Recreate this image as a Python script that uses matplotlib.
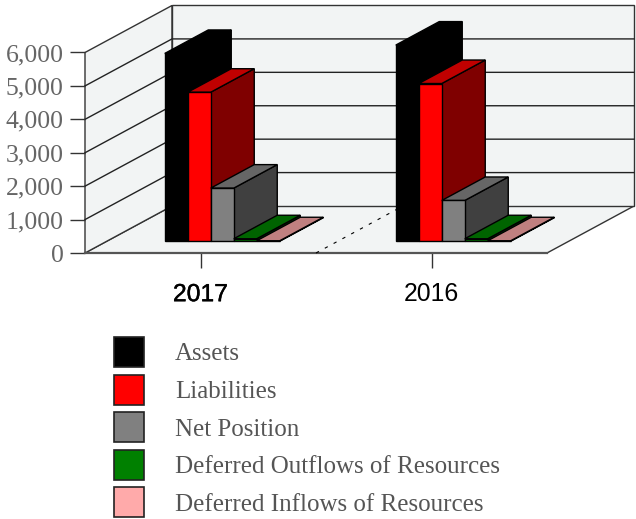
import matplotlib
matplotlib.use("Agg")
import matplotlib.pyplot as plt
from matplotlib.patches import Polygon, Patch
import matplotlib.patheffects as pe

categories = ["2017", "2016"]
series = ["Assets", "Liabilities", "Net Position",
          "Deferred Outflows of Resources", "Deferred Inflows of Resources"]
assets = [5620, 5870]
liabilities = [4460, 4720]
net_position = [1590, 1220]
deferred_out = [75, 75]
deferred_in = [15, 15]
values = [assets, liabilities, net_position, deferred_out, deferred_in]
yticks = [0, 1000, 2000, 3000, 4000, 5000, 6000]
front = ["#000000", "#ff0000", "#808080", "#008000", "#ffaaaa"]
top = ["#000000", "#c00000", "#666666", "#006400", "#c08080"]
side = ["#000000", "#7f0000", "#404040", "#004000", "#804040"]
WALL = "#f2f4f4"
W, H = 636, 519

fig = plt.figure(figsize=(W / 100, H / 100), dpi=100, facecolor="white")
ax = fig.add_axes([85 / W, 1 - 253 / H, 462 / W, 200.5 / H])
ax.set_xlim(-0.5, 1.5)
ax.set_ylim(0, 6000)
ax.patch.set_visible(False)
for s in ax.spines.values():
    s.set_visible(False)

DX = 87 / 231        # full chart depth in category units
DY = 47 / 200.5 * 6000  # full chart depth in value units


def proj(x, v, d):
    return (x + DX * d, v + DY * d)


def poly(pts, fc, ec="#000000", lw=1.0, z=2):
    ax.add_patch(Polygon(pts, closed=True, facecolor=fc, edgecolor=ec, linewidth=lw,
                         joinstyle="miter", zorder=z, clip_on=False))


ymax = yticks[-1]
# floor, left wall, back wall
poly([proj(-.5, 0, 0), proj(1.5, 0, 0), proj(1.5, 0, 1), proj(-.5, 0, 1)], WALL, "#333333", 1.0, 1)
poly([proj(-.5, 0, 0), proj(-.5, ymax, 0), proj(-.5, ymax, 1), proj(-.5, 0, 1)], WALL, "#333333", 1.0, 1)
poly([proj(-.5, 0, 1), proj(-.5, ymax, 1), proj(1.5, ymax, 1), proj(1.5, 0, 1)], WALL, "#333333", 1.0, 1)
for v in yticks[1:-1]:
    pts = [proj(-.5, v, 0), proj(-.5, v, 1), proj(1.5, v, 1)]
    ax.plot(*zip(*pts), color="#222222", lw=1.0, zorder=1.5, clip_on=False)
ax.plot(*zip(proj(-.5, 0, 0), proj(1.5, 0, 0)), color="#555555", lw=1.6, zorder=1.6, clip_on=False)

# dashed divider on the floor between categories
ax.plot(*zip(proj(.5, 0, 0), proj(.5, 0, 1)), color="#000000", lw=0.8, ls=(0, (3, 6)),
        zorder=1.7, clip_on=False)

# bars
BW = 23 / 231
D0, D1 = 0.25, 0.75
for i, vals in enumerate(values):
    for c, v in enumerate(vals):
        x0 = c - 2.5 * BW + (i * BW)
        x1 = x0 + BW
        z = 3 + i * 0.1
        poly([proj(x1, 0, D0), proj(x1, v, D0), proj(x1, v, D1), proj(x1, 0, D1)], side[i], z=z)
        poly([proj(x0, v, D0), proj(x1, v, D0), proj(x1, v, D1), proj(x0, v, D1)], top[i], z=z)
        poly([proj(x0, 0, D0), proj(x1, 0, D0), proj(x1, v, D0), proj(x0, v, D0)], front[i], z=z)

ax.set_yticks(yticks)
ax.set_yticklabels([f"{v:,}" for v in yticks], family="Liberation Serif",
                   fontsize=18.5, color="#666666")
ax.set_xticks(range(len(categories)))
xlabs = ax.set_xticklabels(categories, family="Liberation Sans", fontsize=17.8, color="#000000")
xlabs[0].set_path_effects([pe.withStroke(linewidth=0.3, foreground="#000000")])
ax.tick_params(axis="y", length=11, width=1.0, color="#333333", pad=4.5)
ax.tick_params(axis="x", length=11, width=1.0, color="#333333", pad=10)

FS = 18
px = FS * 100 / 72
handles = [Patch(facecolor=f, edgecolor="#222222", linewidth=1.2) for f in front]
fig.legend(handles, series, loc="upper left", bbox_to_anchor=(114 / W, 1 - 337 / H),
           bbox_transform=fig.transFigure, frameon=False, borderpad=0, borderaxespad=0,
           handlelength=30 / px, handleheight=1.48, labelspacing=7.4 / px,
           handletextpad=31 / px, labelcolor="#555555",
           prop={"family": "Liberation Serif", "size": FS})
fig.savefig("out.png", dpi=100, facecolor="white")
